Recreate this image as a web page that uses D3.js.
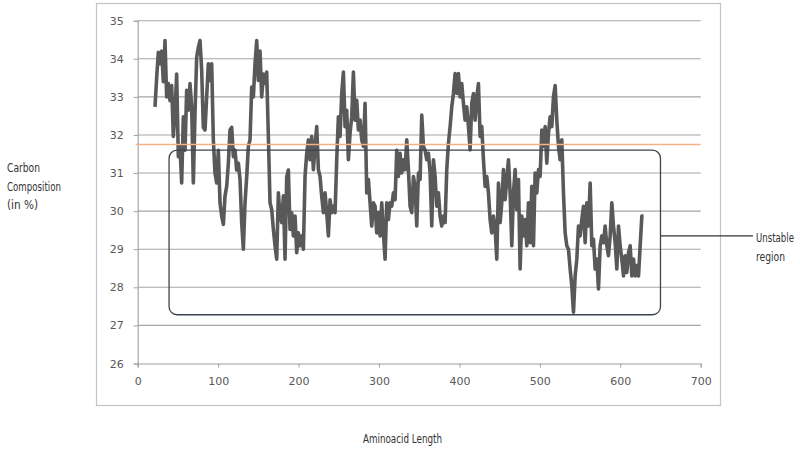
<!DOCTYPE html>
<html>
<head>
<meta charset="utf-8">
<script src="https://cdn.jsdelivr.net/npm/d3@7"></script>
<style>
  body { margin: 0; background: #fff; }
  svg { display: block; }
</style>
</head>
<body>
<div id="chart"></div>
<script>
/* Carbon composition along the sequence — sliding window profile */

const xTicks = [0, 100, 200, 300, 400, 500, 600, 700];
const yTicks = [26, 27, 28, 29, 30, 31, 32, 33, 34, 35];

// window positions are evenly spaced along the sequence
const windowStart = 21.5;
const windowStep = 2.073;

// carbon % for each window
const carbonPct = [
  32.74, 33.5, 34.17, 33.87, 34.2, 33.4, 34.48, 33.0, 33.35, 32.9,
  33.3, 31.96, 32.56, 33.6, 31.43, 31.7, 30.74, 32.48, 31.6, 33.17,
  32.65, 33.35, 32.74, 30.74, 32.56, 34.04, 34.3, 34.48, 33.7, 32.2,
  32.13, 33.0, 33.87, 33.43, 33.87, 31.87, 31.0, 30.74, 31.6, 30.22,
  29.87, 29.65, 30.4, 30.65, 31.26, 32.13, 32.2, 31.43, 31.6, 31.08,
  31.26, 30.83, 29.7, 29.0, 30.22, 30.9, 31.7, 31.87, 33.26, 33.0,
  33.87, 34.48, 33.43, 34.2, 33.0, 33.6, 33.35, 33.65, 31.96, 30.22,
  30.04, 29.52, 29.09, 28.74, 30.48, 29.87, 29.7, 30.4, 28.74, 30.9,
  31.08, 29.52, 29.96, 29.35, 29.87, 28.91, 29.43, 29.09, 29.35, 29.0,
  30.91, 31.52, 31.87, 31.35, 31.96, 31.09, 31.7, 32.22, 31.09, 30.91,
  30.39, 29.96, 30.48, 29.96, 29.35, 30.3, 29.96, 30.13, 29.96, 31.35,
  32.48, 31.96, 33.09, 33.65, 32.22, 32.65, 31.35, 32.04, 32.48, 33.65,
  32.39, 32.91, 32.13, 32.39, 31.87, 31.7, 32.83, 30.48, 30.83, 30.22,
  29.61, 30.22, 30.13, 29.43, 29.96, 29.35, 30.22, 29.43, 28.74, 30.22,
  29.78, 30.22, 30.13, 30.48, 30.3, 31.6, 30.91, 31.52, 31.0, 31.35,
  31.09, 31.87, 31.09, 30.13, 29.96, 30.91, 30.65, 29.61, 31.0, 30.83,
  32.52, 31.7, 31.6, 31.35, 31.52, 31.0, 29.61, 31.35, 30.91, 30.13,
  30.48, 29.87, 29.61, 29.87, 29.7, 31.09, 31.78, 32.22, 32.74, 33.09,
  33.61, 33.09, 33.61, 33.0, 33.35, 32.83, 32.39, 32.74, 32.22, 31.61,
  32.83, 33.09, 32.39, 33.0, 33.35, 31.96, 32.22, 31.35, 30.65, 30.91,
  30.48, 29.78, 29.43, 29.87, 29.52, 28.74, 30.74, 29.7, 30.22, 31.09,
  30.3, 30.83, 31.35, 30.48, 29.09, 30.48, 31.09, 30.04, 30.83, 28.48,
  29.87, 29.35, 29.78, 29.09, 30.22, 29.17, 30.65, 29.09, 31.0, 30.48,
  31.09, 30.91, 32.13, 31.7, 32.22, 31.26, 32.04, 32.48, 32.22, 33.0,
  33.3, 32.39, 31.7, 31.35, 31.87, 30.48, 29.43, 29.09, 29.0, 28.48,
  28.04, 27.35, 28.3, 28.74, 29.61, 29.35, 29.78, 30.13, 29.17, 30.22,
  29.61, 30.74, 29.09, 29.26, 28.48, 28.74, 27.96, 29.09, 29.35, 29.17,
  29.61, 29.09, 28.83, 29.35, 30.22, 29.61, 29.17, 28.48, 29.61, 29.09,
  28.74, 28.3, 28.83, 28.39, 28.91, 29.09, 28.3, 28.74, 28.3, 28.57,
  28.3, 29.09, 29.87, 29.87
];

const stableLevel = 31.75;            // orange reference line
const unstableX = [39, 650];          // annotation box, residue range
const unstableY = [27.28, 31.6];      // annotation box, % range
const calloutAt = 29.35;              // where the leader line leaves the box
const calloutEnd = 765;               // leader line end, in residues

const yTitle = ['Carbon', 'Composition', '(in %)'];
const xTitle = 'Aminoacid Length';
const calloutText = ['Unstable', 'region'];

const W = 800, H = 450;

const svg = d3.select('#chart').append('svg')
  .attr('width', W).attr('height', H);

const x = d3.scaleLinear().domain([0, 700]).range([137.7, 700.7]);
const y = d3.scaleLinear().domain([26, 35]).range([363.5, 20.7]);

// condensed label helper: squeeze text to the width it has in the picture
function narrowText(tx, ty, str, width) {
  return svg.append('text')
    .attr('x', tx).attr('y', ty)
    .attr('font-family', '"DejaVu Sans", sans-serif')
    .style('font-stretch', 'condensed')
    .attr('font-size', '12.5px')
    .attr('fill', '#333')
    .attr('textLength', width)
    .attr('lengthAdjust', 'spacingAndGlyphs')
    .text(str);
}

// chart frame
svg.append('rect')
  .attr('x', 96.5).attr('y', 3.5)
  .attr('width', 624).attr('height', 402)
  .attr('fill', '#fff')
  .attr('stroke', '#c4c4c4').attr('stroke-width', 1.2);

// gridlines
svg.append('g').selectAll('line').data(yTicks.slice(1)).join('line')
  .attr('x1', x(0)).attr('x2', x(700))
  .attr('y1', d => y(d)).attr('y2', d => y(d))
  .attr('stroke', '#a6a6a6').attr('stroke-width', 1.1);

// axes
const xAxis = svg.append('g')
  .attr('transform', `translate(0,${y(26)})`)
  .call(d3.axisBottom(x).tickValues(xTicks).tickSize(4).tickPadding(10));
const yAxis = svg.append('g')
  .attr('transform', `translate(${x(0)},0)`)
  .call(d3.axisLeft(y).tickValues(yTicks).tickSize(4).tickPadding(10));

[xAxis, yAxis].forEach(a => {
  a.select('.domain').attr('stroke', '#a0a0a0').attr('stroke-width', 1.1);
  a.selectAll('.tick line').attr('stroke', '#a0a0a0');
  a.selectAll('.tick text')
    .attr('fill', '#595959')
    .attr('font-family', '"DejaVu Sans", sans-serif')
    .attr('font-size', '11px');
});

// the profile
const pts = carbonPct.map((v, i) => [windowStart + i * windowStep, v]);
svg.append('path')
  .datum(pts)
  .attr('fill', 'none')
  .attr('stroke', '#595959')
  .attr('stroke-width', 3.6)
  .attr('stroke-linejoin', 'round')
  .attr('d', d3.line().x(d => x(d[0])).y(d => y(d[1])));

// reference level
svg.append('line')
  .attr('x1', x(0) - 2).attr('x2', x(700))
  .attr('y1', y(stableLevel)).attr('y2', y(stableLevel))
  .attr('stroke', '#f4b183').attr('stroke-width', 1.6);

// unstable region annotation
const bx0 = x(unstableX[0]), bx1 = x(unstableX[1]);
const by0 = y(unstableY[1]), by1 = y(unstableY[0]);
svg.append('rect')
  .attr('x', bx0).attr('y', by0)
  .attr('width', bx1 - bx0).attr('height', by1 - by0)
  .attr('rx', 8)
  .attr('fill', 'none')
  .attr('stroke', '#3a4450').attr('stroke-width', 1.3);

svg.append('line')
  .attr('x1', bx1).attr('x2', x(calloutEnd))
  .attr('y1', y(calloutAt)).attr('y2', y(calloutAt))
  .attr('stroke', '#333').attr('stroke-width', 1.2);

const cx = x(calloutEnd) + 3;
narrowText(cx, y(calloutAt) + 6, calloutText[0], 38);
narrowText(cx, y(calloutAt) + 25, calloutText[1], 29);

// axis titles
narrowText(7, 172, yTitle[0], 33);
narrowText(7, 190.5, yTitle[1], 54);
narrowText(7, 209, yTitle[2], 31);

narrowText(363, 443, xTitle, 79);
</script>
</body>
</html>
